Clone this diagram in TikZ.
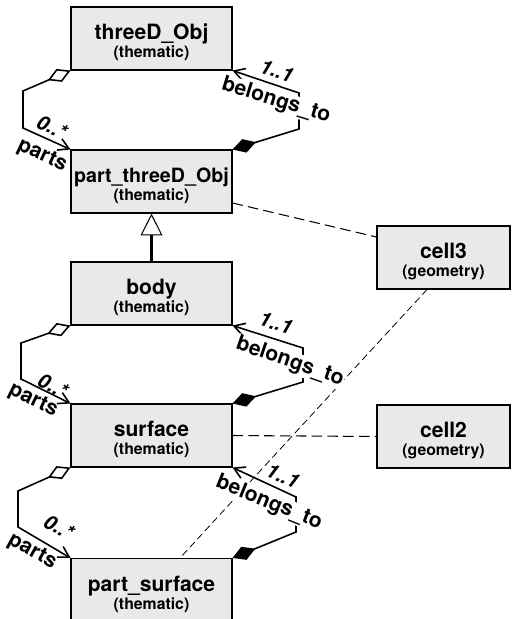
\documentclass[tikz,border=0pt]{standalone}
\usepackage{fontspec}
\setmainfont{TeX Gyre Heros}
\usetikzlibrary{arrows.meta}

\definecolor{boxgray}{RGB}{233,233,236}

\newcommand{\classlabel}[3][12]{{\fontsize{#1}{14}\selectfont\rule{0pt}{13.5pt}#2}\\[-1pt]{\fontsize{9}{11}\selectfont (#3)}}

\tikzset{
  classbox/.style={draw, line width=0.6pt, fill=boxgray, minimum width=3.22cm,
    minimum height=1.26cm, align=center, inner sep=0pt,
    font=\bfseries\fontsize{9}{11.3}\selectfont},
  cellbox/.style={classbox, minimum width=2.66cm},
  assoc/.style={line width=0.9pt},
  partof/.style={assoc, {Diamond[open,length=14pt,width=8pt]}-{Straight Barb[length=6pt,width=7pt]}},
  belongsto/.style={assoc, {Diamond[length=14pt,width=8pt]}-{Straight Barb[length=6pt,width=7pt]}},
  generalize/.style={line width=1.6pt, -{Triangle[open,length=12.5pt,width=12.5pt,line width=0.6pt]}},
  linkdash/.style={line width=0.6pt, dash pattern=on 6pt off 3pt},
  finedash/.style={line width=0.45pt, dash pattern=on 4pt off 2.3pt},
  mult/.style={font=\fontsize{11.5}{13}\selectfont\bfseries\itshape, inner sep=0pt},
  rolename/.style={font=\fontsize{12}{14}\selectfont\bfseries, inner sep=0.5pt},
  rolefill/.style={rolename, fill=white}
}

\begin{document}
\begin{tikzpicture}[x=0.02cm, y=-0.02cm]
        \useasboundingbox (0,0) rectangle (511,619);
        \clip (0,0) rectangle (511,619);

        % Thematic classes
        \node[classbox] (threeD) at (151.5, 38.5) {\classlabel{threeD\_Obj}{thematic}};
        \node[classbox] (partThreeD) at (151.5, 181.5) {\classlabel[11.2]{part\_threeD\_Obj}{thematic}};
        \node[classbox] (body) at (151.5, 293.5) {\classlabel{body}{thematic}};
        \node[classbox] (surface) at (151.5, 435.5) {\classlabel{surface}{thematic}};
        \node[classbox] (partSurface) at (151.5, 590) {\classlabel{part\_surface}{thematic}};

        % Geometry classes
        \node[cellbox] (cellThree) at (443.5, 257.5) {\classlabel{cell3}{geometry}};
        \node[cellbox] (cellTwo) at (443.5, 436.5) {\classlabel{cell2}{geometry}};

        % Dashed links to geometry
        \draw[linkdash] ([yshift=-0.43cm]partThreeD.east) -- ([yshift=0.41cm]cellThree.west);
        \draw[linkdash] (surface.east) -- (cellTwo.west);
        \draw[finedash] ([xshift=-0.33cm]cellThree.south) -- ([xshift=0.57cm]partSurface.north);

        % Generalization
        \draw[generalize] (body.north) -- (partThreeD.south);

        % Left part-of associations
        \coordinate (pa1) at (23, 91);
        \coordinate (pb1) at (23, 128);
        \draw[partof] (threeD.south west) -- (pa1) -- (pb1) -- (partThreeD.north west);
        \node[mult, rotate=-25] at (52, 127) {0..*};
        \node[rolename, rotate=-25] at (42, 156) {parts};

        \coordinate (pa2) at (21, 343);
        \coordinate (pb2) at (21, 379);
        \draw[partof] (body.south west) -- (pa2) -- (pb2) -- (surface.north west);
        \node[mult, rotate=-26] at (53, 386) {0..*};
        \node[rolename, rotate=-26] at (33, 401) {parts};

        \coordinate (pa3) at (18, 491);
        \coordinate (pb3) at (18, 527);
        \draw[partof] (surface.south west) -- (pa3) -- (pb3) -- (partSurface.north west);
        \node[mult, rotate=-29] at (59, 527) {0..*};
        \node[rolename, rotate=-29] at (32, 552) {parts};

        % Right belongs_to associations
        \coordinate (ba1) at (299, 129);
        \coordinate (bb1) at (299, 93);
        \draw[belongsto] (partThreeD.north east) -- (ba1) -- (bb1) -- (threeD.south east);
        \node[mult, rotate=-19] at (277, 71) {1..1};
        \node[rolefill, rotate=-17] at (276, 101) {belongs\_to};

        \coordinate (ba2) at (303, 382);
        \coordinate (bb2) at (303, 348);
        \draw[belongsto] (surface.north east) -- (ba2) -- (bb2) -- (body.south east);
        \node[mult, rotate=-18] at (276, 323) {1..1};
        \node[rolefill, rotate=-19] at (290, 362) {belongs\_to};

        \coordinate (ba3) at (296, 532);
        \coordinate (bb3) at (296, 497);
        \draw[belongsto] (partSurface.north east) -- (ba3) -- (bb3) -- (surface.south east);
        \node[mult, rotate=-25] at (283, 476) {1..1};
        \node[rolefill, rotate=-22] at (269, 503) {belongs\_to};
\end{tikzpicture}
\end{document}
